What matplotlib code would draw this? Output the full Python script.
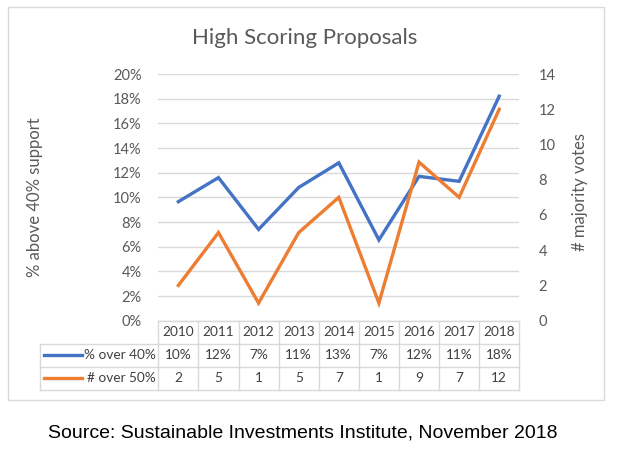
import matplotlib
matplotlib.use("Agg")
import matplotlib.pyplot as plt
from matplotlib.patches import Rectangle
from matplotlib.lines import Line2D
from matplotlib.ticker import FuncFormatter

years = ["2010", "2011", "2012", "2013", "2014", "2015", "2016", "2017", "2018"]
pct_over_40 = [9.65, 11.6, 7.4, 10.8, 12.8, 6.55, 11.7, 11.3, 18.2]
pct_labels = ["10%", "12%", "7%", "11%", "13%", "7%", "12%", "11%", "18%"]
num_over_50 = [2, 5, 1, 5, 7, 1, 9, 7, 12]
series_names = ["% over 40%", "# over 50%"]

BLUE = "#4472C4"
ORANGE = "#ED7D31"
GREY = "#595959"
GRID = "#d9d9d9"
FONT = ["Lato", "DejaVu Sans"]

plt.rcParams["font.family"] = FONT

fig = plt.figure(figsize=(6.4, 4.74), dpi=100)
W, H = 640, 474

# chart frame
fig.add_artist(Rectangle((8 / W, 1 - 400 / H), 596 / W, 393 / H, transform=fig.transFigure,
                         fill=False, edgecolor=GRID, linewidth=1))

ax = fig.add_axes([158.3 / W, 1 - 320.7 / H, 361 / W, 246.7 / H])
ax2 = ax.twinx()

x = list(range(len(years)))
ax.plot(x, pct_over_40, color=BLUE, linewidth=2.4, solid_joinstyle="miter", zorder=3)
ax2.plot(x, num_over_50, color=ORANGE, linewidth=2.4, solid_joinstyle="miter", zorder=3)

ax.set_xlim(-0.5, len(years) - 0.5)
ax.set_ylim(0, 20)
ax.set_yticks(range(0, 21, 2))
ax.yaxis.set_major_formatter(FuncFormatter(lambda v, p: f"{v:.0f}%"))
ax2.set_ylim(0, 14)
ax2.set_yticks(range(0, 15, 2))
ax.grid(axis="y", color=GRID, linewidth=1)
ax.set_axisbelow(True)
ax.set_xticks([])
for a in (ax, ax2):
    for s in a.spines.values():
        s.set_visible(False)
    a.tick_params(axis="y", length=0, labelsize=10.5, labelcolor=GREY)
ax.tick_params(axis="y", pad=12)
ax2.tick_params(axis="y", pad=14)

ax.set_ylabel("% above 40% support", fontsize=12, color=GREY)
ax.yaxis.set_label_coords((43 - 158.3) / 361, 0.5)
ax2.set_ylabel("# majority votes", fontsize=12, color=GREY)
ax2.yaxis.set_label_coords((572 - 158.3) / 361, 0.52)

fig.text(305 / W, 1 - 38 / H, "High Scoring Proposals", ha="center", va="center",
         fontsize=16, color=GREY)

# data table under the plot
tr = ax.get_xaxis_transform()
row_h = 23 / 246.7
leg_left = -0.5 - (158.3 - 40) / 40
n = len(years)
lines_kw = dict(transform=tr, color=GRID, linewidth=1, clip_on=False)
# horizontal lines
ax.plot([-0.5, n - 0.5], [0, 0], **lines_kw)
for k in (1, 2, 3):
    ax.plot([leg_left, n - 0.5], [-k * row_h, -k * row_h], **lines_kw)
# vertical lines
for i in range(n + 1):
    ax.plot([i - 0.5, i - 0.5], [0, -3 * row_h], **lines_kw)
ax.plot([leg_left, leg_left], [-row_h, -3 * row_h], **lines_kw)

cell_kw = dict(transform=tr, ha="center", va="center", fontsize=9.8, color="#404040", clip_on=False)
for i, yr in enumerate(years):
    ax.text(i, -0.5 * row_h, yr, **cell_kw)
    ax.text(i, -1.5 * row_h, pct_labels[i], **cell_kw)
    ax.text(i, -2.5 * row_h, str(num_over_50[i]), **cell_kw)

for r, (name, col) in enumerate(zip(series_names, [BLUE, ORANGE])):
    yy = -(r + 1.5) * row_h
    ax.add_line(Line2D([leg_left + 0.12, leg_left + 1.05], [yy, yy], transform=tr,
                       color=col, linewidth=2.4, clip_on=False))
    ax.text(-0.56, yy, name, transform=tr, ha="right", va="center", fontsize=9.8,
            color="#404040", clip_on=False)

fig.text(303 / W, 1 - 433 / H, "Source: Sustainable Investments Institute, November 2018",
         ha="center", va="center", fontsize=14, family=["Liberation Sans", "DejaVu Sans"],
         color="black")

fig.savefig("out.png", dpi=100, facecolor="white")
